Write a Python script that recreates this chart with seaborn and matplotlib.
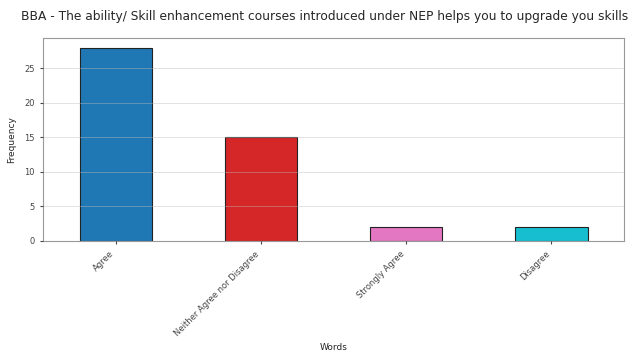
import matplotlib
matplotlib.use("Agg")
import matplotlib.pyplot as plt
import pandas as pd
import seaborn as sns

# Response counts
categories = ["Agree", "Neither Agree nor Disagree", "Strongly Agree", "Disagree"]
counts = [28, 15, 2, 2]
bar_colors = ["#1f77b4", "#d62728", "#e377c2", "#17becf"]

title = ("BBA - The ability/ Skill enhancement courses introduced under NEP "
         "helps you to upgrade you skills")

df = pd.DataFrame({"Words": categories, "Frequency": counts})

sns.set_style("ticks")
plt.rcParams["font.family"] = ["DejaVu Sans"]

fig = plt.figure(figsize=(6.36, 3.58), dpi=100)
ax = fig.add_axes([0.068, 0.327, 0.913, 0.567])

sns.barplot(data=df, x="Words", y="Frequency", hue="Words",
            palette=bar_colors, width=0.5, edgecolor="#222222",
            linewidth=0.8, saturation=1, legend=False, ax=ax)

ax.set_xlim(-0.5, 3.5)
ax.set_ylim(0, 29.4)
ax.set_yticks([0, 5, 10, 15, 20, 25])
ax.grid(axis="y", color="#bbbbbb", linewidth=0.6, alpha=0.5)
ax.set_axisbelow(False)
for p in ax.patches:
    p.set_zorder(1)

# title is wider than the axes; nudge its centre left so it stays on the canvas
ax.set_title(title, fontsize=8.8, pad=13, x=0.485)
ax.set_xlabel("Words", fontsize=6.5, labelpad=4)
ax.set_ylabel("Frequency", fontsize=6.5, labelpad=6)
ax.tick_params(axis="y", labelsize=6, length=2.5, colors="#444444")
ax.tick_params(axis="x", labelsize=6, length=2.5, colors="#444444")
plt.setp(ax.get_xticklabels(), rotation=45, ha="right")

for s in ax.spines.values():
    s.set_visible(True)
    s.set_color("#999999")
    s.set_linewidth(0.8)

fig.savefig("out.png", dpi=100)
